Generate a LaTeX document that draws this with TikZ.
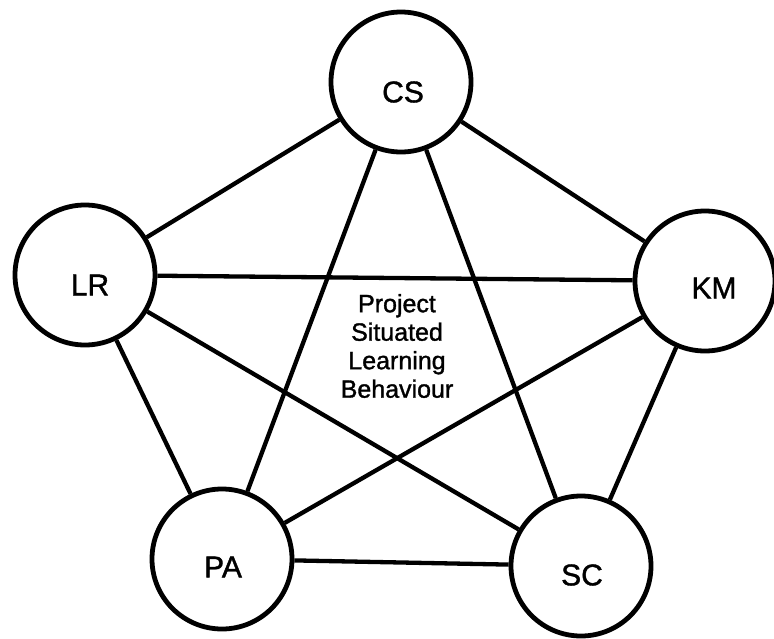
\documentclass[tikz,border=0pt]{standalone}
\usepackage{fontspec}
\setmainfont{Liberation Sans}[BoldFont={Liberation Sans},BoldFeatures={FakeBold=1.3}]
\usetikzlibrary{calc}
\begin{document}
\begin{tikzpicture}[x=1pt,y=1pt,
  bigc/.style={circle,draw=black,fill=white,line width=4.8pt,minimum size=140pt,inner sep=0pt},
  lab/.style={font=\bfseries\fontsize{30}{34}\selectfont,inner sep=0pt},
  edge/.style={line width=4.3pt,line cap=butt}]
\useasboundingbox (0,0) rectangle (774,-638);
% circles
\node[bigc] (CS) at (401,-82) {};
\node[bigc] (LR) at (85,-275) {};
\node[bigc] (KM) at (705,-281) {};
\node[bigc] (PA) at (222,-559) {};
\node[bigc] (SC) at (581,-566) {};
% connectors (complete graph)
\draw[edge] (CS) -- (LR);
\draw[edge] (CS) -- (KM);
\draw[edge] (CS) -- (PA);
\draw[edge] (CS) -- (SC);
\draw[edge] (LR) -- (KM);
\draw[edge] (LR) -- (PA);
\draw[edge] (LR) -- (SC);
\draw[edge] (KM) -- (PA);
\draw[edge] (KM) -- (SC);
\draw[edge] (PA) -- (SC);
% labels
\node[lab] (tCS) at ($(CS)+(2,-10)$) {CS};
\node[lab] (tLR) at ($(LR)+(5,-10)$) {LR};
\node[lab] (tKM) at ($(KM)+(9,-7)$) {KM};
\node[lab] (tPA) at ($(PA)+(1,-8)$) {PA};
\node[lab] (tSC) at ($(SC)+(1,-9)$) {SC};
\node[font=\bfseries\fontsize{25}{28.5}\selectfont,align=center,inner sep=0pt] (mid) at (397,-346) {Project\\Situated\\Learning\\Behaviour};
\end{tikzpicture}
\end{document}
